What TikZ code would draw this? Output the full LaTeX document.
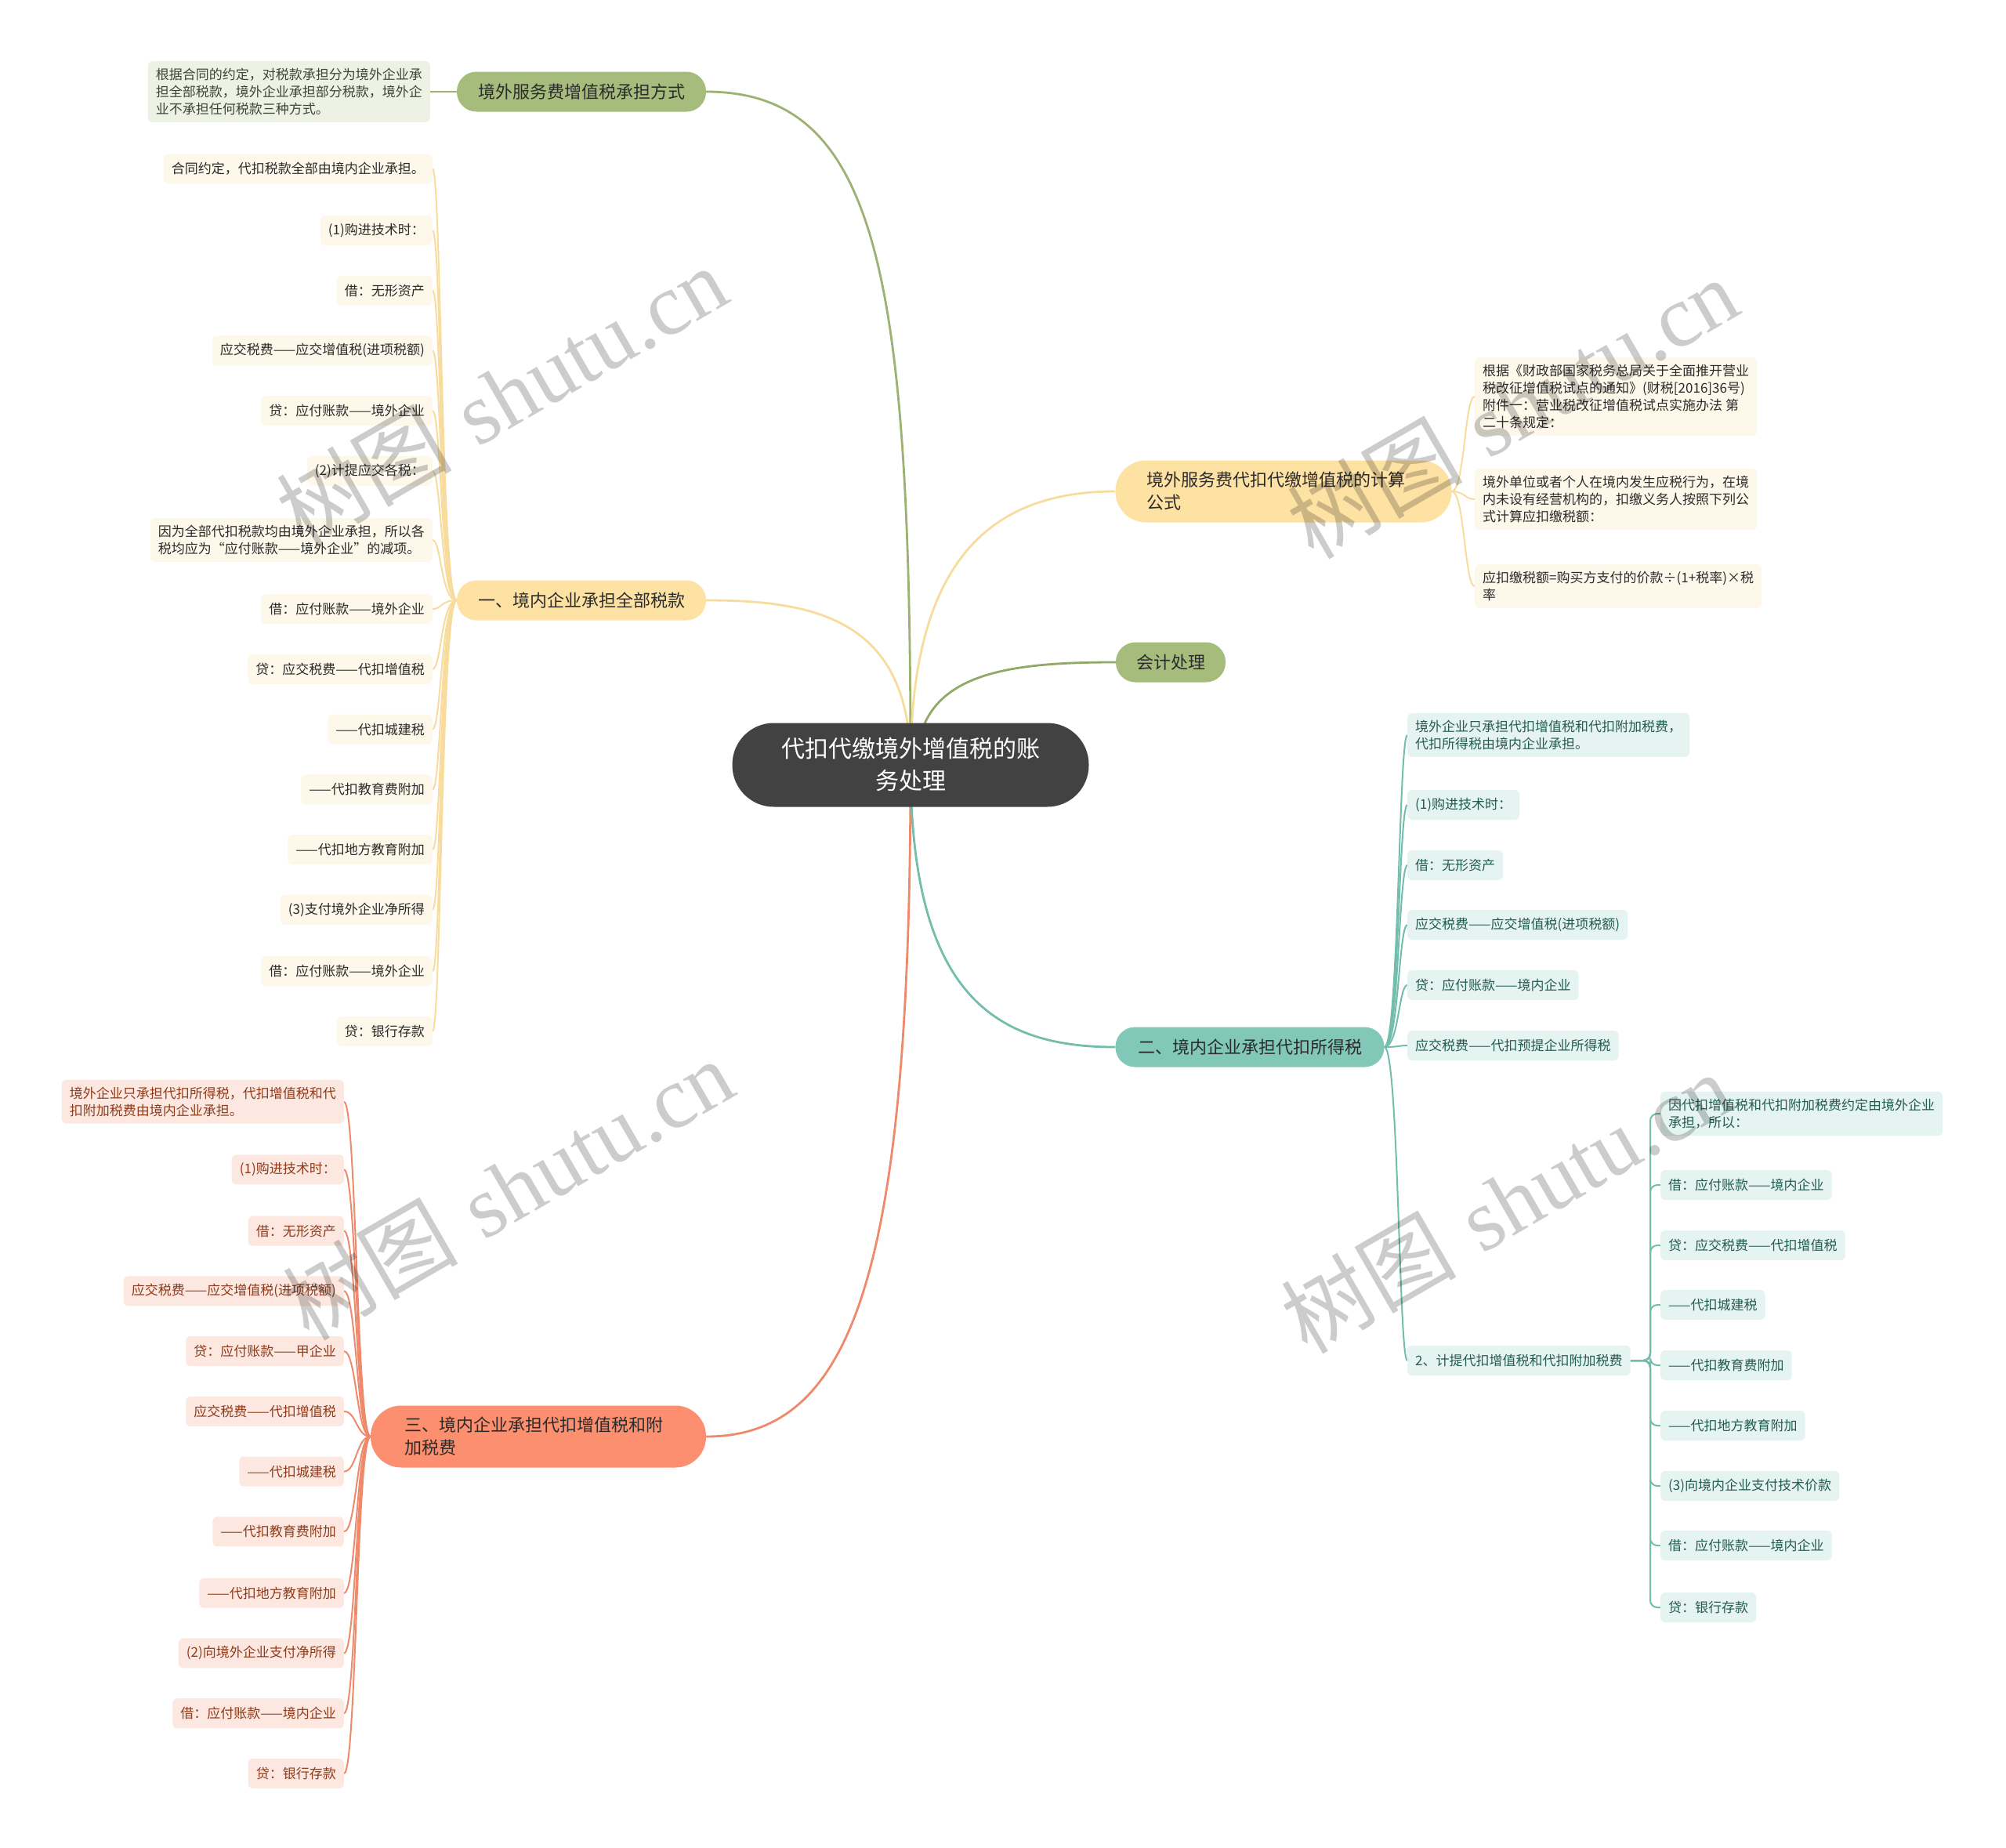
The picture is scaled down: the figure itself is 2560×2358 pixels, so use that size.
\documentclass[tikz,border=0pt]{standalone}
\usepackage{fontspec}
\newfontfamily\cjk{Noto Sans CJK SC}
\newfontfamily\wmserif{Liberation Serif}
\pgfdeclarelayer{bg}
\pgfdeclarelayer{fg}
\pgfsetlayers{bg,main,fg}
\definecolor{cRoot}{HTML}{424242}
\definecolor{cGreen}{HTML}{A6BC7C}
\definecolor{cYellow}{HTML}{FEE2A4}
\definecolor{cOrange}{HTML}{FB8F6F}
\definecolor{cTeal}{HTML}{82C8B8}
\definecolor{cDark}{HTML}{2B2B2B}
\definecolor{lnGreen}{HTML}{9CB172}
\definecolor{lnYellow}{HTML}{F8DC9E}
\definecolor{lnOrange}{HTML}{EE8A6B}
\definecolor{lnTeal}{HTML}{72BDAC}
\definecolor{lnOlive}{HTML}{92A866}
\definecolor{fCream}{HTML}{FEF8EA}
\definecolor{fPink}{HTML}{FCE8E0}
\definecolor{fMint}{HTML}{E5F4F0}
\definecolor{fSage}{HTML}{EEF2E5}
\definecolor{tOlive}{HTML}{3D4630}
\definecolor{tRed}{HTML}{8F3B1B}
\definecolor{tTeal}{HTML}{235C50}
\begin{document}
\begin{tikzpicture}[x=1pt,y=-1pt,
  root/.style={fill=cRoot, text=white, font=\cjk\fontsize{30}{41}\selectfont, align=center,
    minimum width=455pt, minimum height=107pt, rounded corners=53pt, inner sep=0pt},
  lone/.style={font=\cjk\fontsize{22}{29}\selectfont, text=cDark, rounded corners=25pt,
    minimum height=51pt, inner sep=0pt, align=center},
  ltwo/.style={font=\cjk\fontsize{22}{29}\selectfont, text=cDark, rounded corners=39pt,
    minimum height=79pt, inner ysep=0pt, align=left},
  leaf/.style={font=\cjk\fontsize{17}{22}\selectfont, rounded corners=6pt, inner xsep=10pt,
    inner ysep=9pt, minimum height=38pt, align=left},
  lfB/.style={leaf, fill=fCream, text=cDark, anchor=east},
  lfD/.style={leaf, fill=fCream, text=cDark, anchor=west},
  lfA/.style={leaf, fill=fSage, text=tOlive, anchor=east},
  lfC/.style={leaf, fill=fPink, text=tRed, anchor=east},
  lfF/.style={leaf, fill=fMint, text=tTeal, anchor=west},
  mainln/.style={line width=2.8pt},
  leafln/.style={line width=2pt},
  wm/.style={text=black, text opacity=0.2, rotate=30, font=\fontsize{112}{120}\selectfont, inner sep=0pt}
]
\useasboundingbox (0,0) rectangle (2560,2358);

% ---------- root and main branches ----------
\node[root] (root) at (1162,976) {代扣代缴境外增值税的账\\务处理};
\node[lone, fill=cGreen, minimum width=318pt] (A) at (742,117) {境外服务费增值税承担方式};
\node[lone, fill=cYellow, minimum width=318pt] (B) at (742,766) {一、境内企业承担全部税款};
\node[ltwo, fill=cOrange, text width=342pt, inner xsep=43pt] (C) at (687,1833) {三、境内企业承担代扣增值税和附\\加税费};
\node[ltwo, fill=cYellow, text width=349pt, inner xsep=40pt] (D) at (1638,627) {境外服务费代扣代缴增值税的计算\\公式};
\node[lone, fill=cGreen, minimum width=140pt] (E) at (1494,845) {会计处理};
\node[lone, fill=cTeal, minimum width=343pt] (F) at (1595,1336) {二、境内企业承担代扣所得税};

% ---------- A leaf ----------
\node[lfA] (a1) at (549,117) {根据合同的约定，对税款承担分为境外企业承\\担全部税款，境外企业承担部分税款，境外企\\业不承担任何税款三种方式。};

% ---------- B leaves ----------
\node[lfB] (b1) at (552,215.5) {合同约定，代扣税款全部由境内企业承担。};
\node[lfB] (b2) at (552,293.9) {(1)购进技术时：};
\node[lfB] (b3) at (552,370.6) {借：无形资产};
\node[lfB] (b4) at (552,447.4) {应交税费——应交增值税(进项税额)};
\node[lfB] (b5) at (552,524.1) {贷：应付账款——境外企业};
\node[lfB] (b6) at (552,600.8) {(2)计提应交各税：};
\node[lfB] (b7) at (552,689) {因为全部代扣税款均由境外企业承担，所以各\\税均应为“应付账款——境外企业”的减项。};
\node[lfB] (b8) at (552,777.2) {借：应付账款——境外企业};
\node[lfB] (b9) at (552,853.9) {贷：应交税费——代扣增值税};
\node[lfB] (b10) at (552,930.6) {——代扣城建税};
\node[lfB] (b11) at (552,1007.4) {——代扣教育费附加};
\node[lfB] (b12) at (552,1084.1) {——代扣地方教育附加};
\node[lfB] (b13) at (552,1160.8) {(3)支付境外企业净所得};
\node[lfB] (b14) at (552,1239.2) {借：应付账款——境外企业};
\node[lfB] (b15) at (552,1316) {贷：银行存款};

% ---------- C leaves ----------
\node[lfC] (c1) at (439,1405.8) {境外企业只承担代扣所得税，代扣增值税和代\\扣附加税费由境内企业承担。};
\node[lfC] (c2) at (439,1492.3) {(1)购进技术时：};
\node[lfC] (c3) at (439,1570.7) {借：无形资产};
\node[lfC] (c4) at (439,1647.4) {应交税费——应交增值税(进项税额)};
\node[lfC] (c5) at (439,1724.1) {贷：应付账款——甲企业};
\node[lfC] (c6) at (439,1800.9) {应交税费——代扣增值税};
\node[lfC] (c7) at (439,1877.6) {——代扣城建税};
\node[lfC] (c8) at (439,1954.3) {——代扣教育费附加};
\node[lfC] (c9) at (439,2032.7) {——代扣地方教育附加};
\node[lfC] (c10) at (439,2109.4) {(2)向境外企业支付净所得};
\node[lfC] (c11) at (439,2186.2) {借：应付账款——境内企业};
\node[lfC] (c12) at (439,2262.9) {贷：银行存款};

% ---------- D leaves ----------
\node[lfD] (d1) at (1882,506) {根据《财政部国家税务总局关于全面推开营业\\税改征增值税试点的通知》(财税[2016]36号)\\附件一：营业税改征增值税试点实施办法 第\\二十条规定：};
\node[lfD] (d2) at (1882,637) {境外单位或者个人在境内发生应税行为，在境\\内未设有经营机构的，扣缴义务人按照下列公\\式计算应扣缴税额：};
\node[lfD] (d3) at (1882,748) {应扣缴税额=购买方支付的价款÷(1+税率)×税\\率};

% ---------- F leaves ----------
\node[lfF] (f1) at (1796,938) {境外企业只承担代扣增值税和代扣附加税费，\\代扣所得税由境内企业承担。};
\node[lfF] (f2) at (1796,1027) {(1)购进技术时：};
\node[lfF] (f3) at (1796,1104) {借：无形资产};
\node[lfF] (f4) at (1796,1180) {应交税费——应交增值税(进项税额)};
\node[lfF] (f5) at (1796,1257) {贷：应付账款——境内企业};
\node[lfF] (f6) at (1796,1334) {应交税费——代扣预提企业所得税};
\node[lfF] (G) at (1796,1736) {2、计提代扣增值税和代扣附加税费};

% ---------- G leaves ----------
\node[lfF] (g1) at (2119,1421) {因代扣增值税和代扣附加税费约定由境外企业\\承担，所以：};
\node[lfF] (g2) at (2119,1512) {借：应付账款——境内企业};
\node[lfF] (g3) at (2119,1589) {贷：应交税费——代扣增值税};
\node[lfF] (g4) at (2119,1665) {——代扣城建税};
\node[lfF] (g5) at (2119,1742) {——代扣教育费附加};
\node[lfF] (g6) at (2119,1819) {——代扣地方教育附加};
\node[lfF] (g7) at (2119,1896) {(3)向境内企业支付技术价款};
\node[lfF] (g8) at (2119,1972) {借：应付账款——境内企业};
\node[lfF] (g9) at (2119,2051) {贷：银行存款};

\coordinate (tB) at (563,0);
\coordinate (tC) at (455,0);
\coordinate (tD) at (1869,0);
\coordinate (tF) at (1785,0);
\coordinate (tG) at (2106,0);
\coordinate (rootE) at (1170,976);

\begin{pgfonlayer}{bg}
\fill[white] (0,0) rectangle (2560,2358);
% main connectors
\draw[mainln, lnGreen] (root.center) .. controls (1162,350) and (1120,117) .. (A.east);
\draw[mainln, lnYellow] (root.center) .. controls (1162,790) and (1040,766) .. (B.east);
\draw[mainln, lnOrange] (root.center) .. controls (1162,1620) and (1090,1833) .. (C.east);
\draw[mainln, lnYellow] (root.center) .. controls (1162,720) and (1260,627) .. (D.west);
\draw[mainln, lnOlive] (rootE) .. controls (1170,860) and (1280,845) .. (E.west);
\draw[mainln, lnTeal] (root.center) .. controls (1162,1270) and (1270,1336) .. (F.west);
% A leaf
\draw[leafln, lnGreen] (A.west) -- (a1.east);
% B leaves
\foreach \n in {b1,b2,b3,b4,b5,b6,b7,b8,b9,b10,b11,b12,b13,b14,b15}
  \draw[leafln, lnYellow] (B.west) .. controls (tB |- B.west) and (tB |- \n.east) .. (\n.east);
% C leaves
\foreach \n in {c1,c2,c3,c4,c5,c6,c7,c8,c9,c10,c11,c12}
  \draw[leafln, lnOrange] (C.west) .. controls (tC |- C.west) and (tC |- \n.east) .. (\n.east);
% D leaves
\foreach \n in {d1,d2,d3}
  \draw[leafln, lnYellow] (D.east) .. controls (tD |- D.east) and (tD |- \n.west) .. (\n.west);
% F leaves
\foreach \n in {f1,f2,f3,f4,f5,f6,G}
  \draw[leafln, lnTeal] (F.east) .. controls (tF |- F.east) and (tF |- \n.west) .. (\n.west);
% G leaves
\foreach \n in {g1,g2,g3,g4,g5,g6,g7,g8,g9}
  \draw[leafln, lnTeal, rounded corners=9pt] (G.east) -- (tG |- G.east) |- (\n.west);
\end{pgfonlayer}

\begin{pgfonlayer}{fg}
\begin{scope}
\clip (0,0) rectangle (2560,2358);
\foreach \p in {(640,505),(1930,520),(648,1517),(1922,1534),(648,2529),(1922,2546)}
  \node[wm] at \p {{\cjk 树图} {\wmserif shutu.cn}};
\end{scope}
\end{pgfonlayer}
\end{tikzpicture}
\end{document}
